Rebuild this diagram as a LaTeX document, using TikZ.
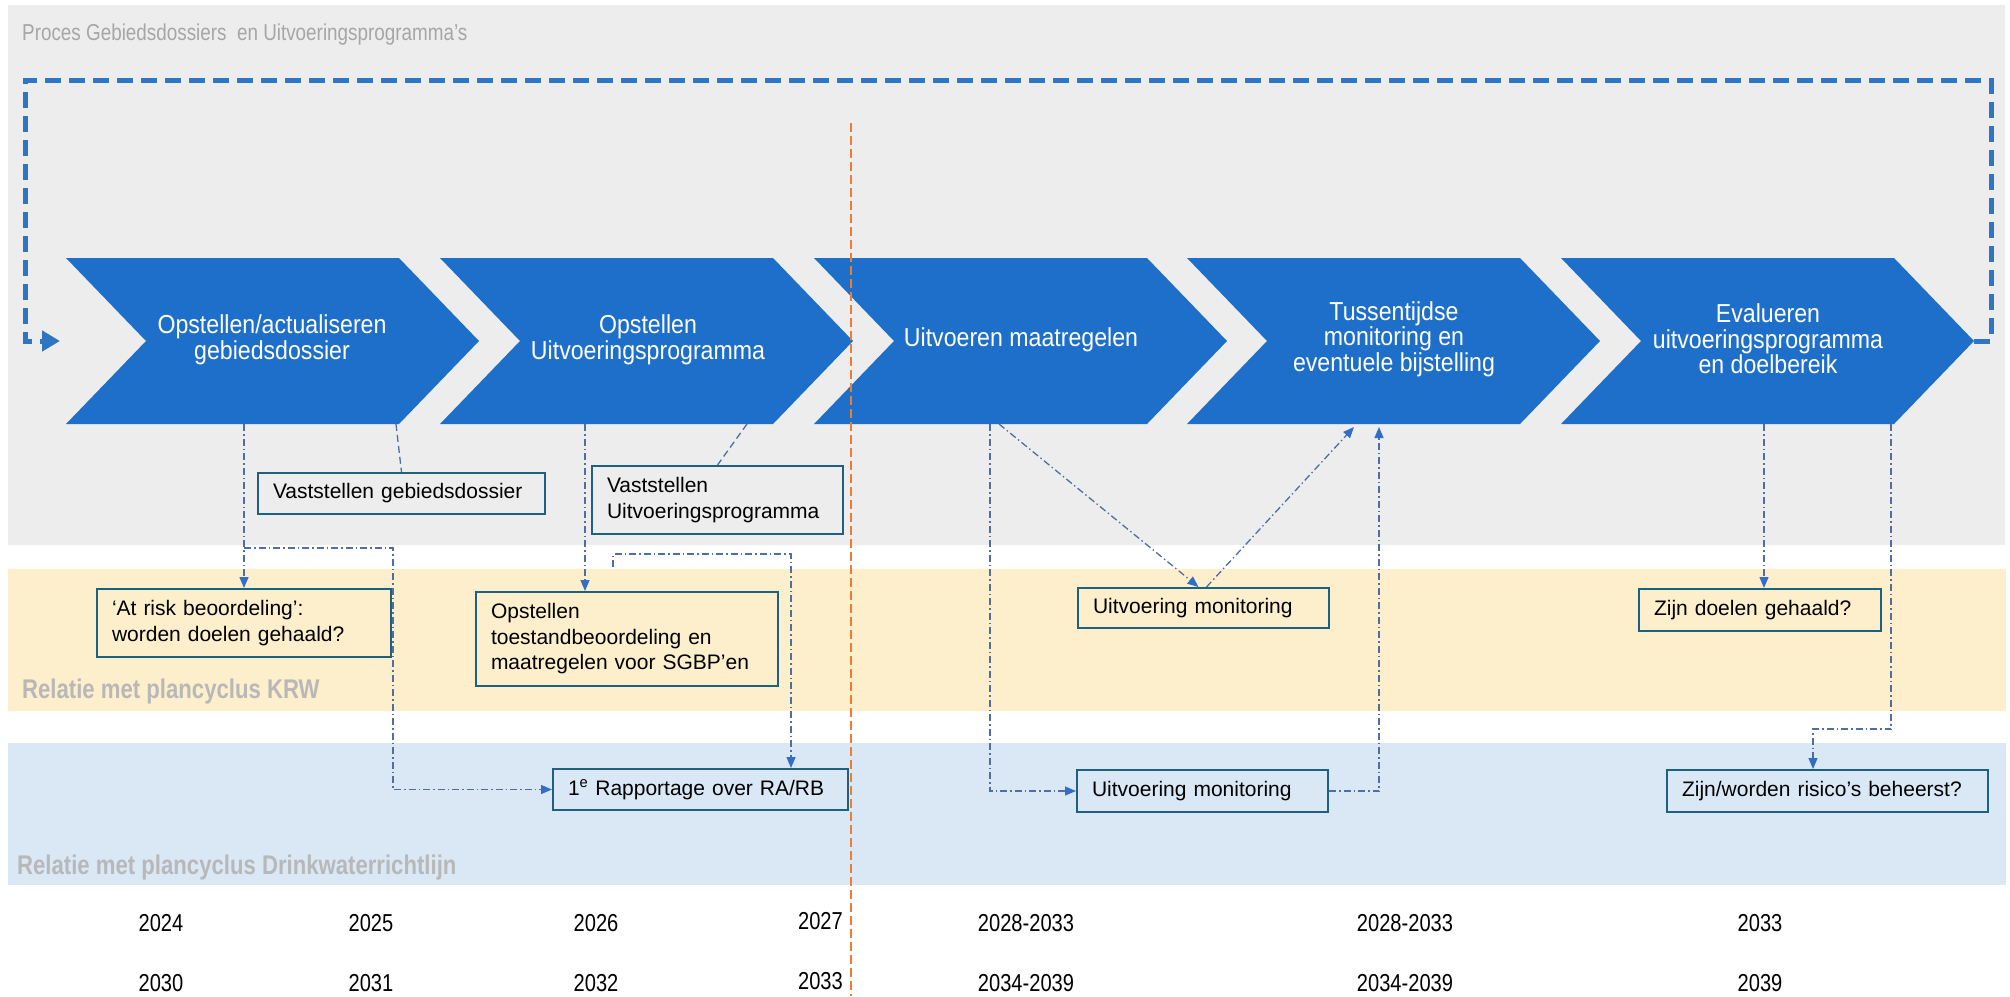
\documentclass[tikz,border=0pt]{standalone}
\usepackage{fontspec}
\setmainfont{Liberation Sans}[FakeStretch=0.82]
\newfontfamily\boxfont{Liberation Sans}
\newfontfamily\chevfont{Liberation Sans}[FakeStretch=0.89]
\usetikzlibrary{arrows.meta}
\definecolor{bandgray}{RGB}{237,237,237}
\definecolor{bandyellow}{RGB}{253,239,203}
\definecolor{bandblue}{RGB}{218,232,245}
\definecolor{chevblue}{RGB}{30,111,201}
\definecolor{loopblue}{RGB}{46,117,196}
\definecolor{boxline}{RGB}{28,98,128}
\definecolor{connc}{RGB}{80,110,160}
\definecolor{arrc}{RGB}{50,110,200}
\definecolor{titlegray}{RGB}{166,166,166}
\definecolor{labelgray}{RGB}{184,184,184}
\definecolor{orangeline}{RGB}{237,125,49}
\begin{document}
\begin{tikzpicture}[x=1pt,y=-1pt,
  chevtext/.style={text=white, align=center, font=\chevfont\fontsize{26}{25.5}\selectfont, inner sep=0pt},
  infobox/.style={draw=boxline, line width=2pt, anchor=north west, align=left, inner xsep=15pt, inner ysep=0pt, font=\boxfont\fontsize{21}{25.5}\selectfont},
  conn/.style={draw=connc, line width=1.3pt, dash pattern=on 7pt off 3pt on 1.5pt off 3pt, -{Triangle[length=11pt,width=9pt,color=arrc]}},
  dconn/.style={draw=connc, line width=1.3pt, dash pattern=on 7pt off 4pt},
  loopline/.style={draw=loopblue, line width=5pt, dash pattern=on 16pt off 8pt, -{Triangle[length=18pt,width=20pt]}},
  year/.style={font=\fontsize{24.5}{26}\selectfont, inner sep=0pt},
  bandlabel/.style={anchor=west, font=\bfseries\fontsize{27}{30}\selectfont, text=labelgray, inner sep=0pt},
  chevron/.style={fill=chevblue}
]
\useasboundingbox (0,0) rectangle (2010,996);
\fill[white] (0,0) rectangle (2010,996);
% bands
\fill[bandgray] (8,5) rectangle (2005,545);
\fill[bandyellow] (8,569) rectangle (2006,711);
\fill[bandblue] (8,743) rectangle (2006,885);

% title and labels
\node[anchor=west, text=titlegray, font=\fontsize{23}{26}\selectfont, inner sep=0pt] (title) at (22,35) {Proces Gebiedsdossiers\ \ en Uitvoeringsprogramma’s};
\node[bandlabel] (krw) at (22,692) {Relatie met plancyclus KRW};
\node[bandlabel] (dwr) at (17,868) {Relatie met plancyclus Drinkwaterrichtlijn};

% chevrons
\foreach \L in {66,440,814,1187,1561}{
  \path[chevron] (\L,258) -- ++(333,0) -- ++(80,83) -- ++(-80,83) -- ++(-333,0) -- ++(80,-83) -- cycle;
}
\node[chevtext] (ch1) at (272,340) {Opstellen/actualiseren\\gebiedsdossier};
\node[chevtext] (ch2) at (648,340) {Opstellen\\Uitvoeringsprogramma};
\node[chevtext] (ch3) at (1021,340) {Uitvoeren maatregelen};
\node[chevtext] (ch4) at (1394,339) {Tussentijdse\\monitoring en\\eventuele bijstelling};
\node[chevtext] (ch5) at (1768,339) {Evalueren\\uitvoeringsprogramma\\en doelbereik};

% loop
\coordinate (c5tip) at (1974,341);
\coordinate (lp1) at (1991,80);
\coordinate (lp2) at (25,80);
\coordinate (lpend) at (60,341);
\draw[loopline] (c5tip) -| (lp1) -- (lp2) |- (lpend);

% orange line
\coordinate (ot) at (851,123);
\coordinate (ob) at (851,996);
\draw[orangeline, line width=2.5pt, dash pattern=on 9pt off 4pt] (ot) -- (ob);

% boxes
\node[infobox, text width=257pt, minimum height=41pt] (b1) at (257,472) {Vaststellen gebiedsdossier};
\node[infobox, text width=221pt, minimum height=68pt] (b2) at (591,465) {Vaststellen\\Uitvoeringsprogramma};
\node[infobox, text width=264pt, minimum height=68pt] (b3) at (96,588) {‘At risk beoordeling’:\\worden doelen gehaald?};
\node[infobox, text width=272pt, minimum height=94pt] (b4) at (475,591) {Opstellen\\toestandbeoordeling en\\maatregelen voor SGBP’en};
\node[infobox, text width=265pt, minimum height=41pt] (b5) at (552,768) {1\textsuperscript{e} Rapportage over RA/RB};
\node[infobox, text width=221pt, minimum height=40pt] (b6) at (1077,587) {Uitvoering monitoring};
\node[infobox, text width=212pt, minimum height=42pt] (b7) at (1638,588) {Zijn doelen gehaald?};
\node[infobox, text width=221pt, minimum height=42pt] (b8) at (1076,769) {Uitvoering monitoring};
\node[infobox, text width=291pt, minimum height=42pt] (b9) at (1666,769) {Zijn/worden risico’s beheerst?};

% connectors
\coordinate (c1b) at (244,424);
\coordinate (br1) at (244,548);
\coordinate (k1) at (393,548);
\draw[conn] (c1b) -- (c1b |- b3.north);
\draw[conn] (br1) -- (k1) |- (b5.west);
\coordinate (c1r) at (396,424);
\draw[dconn] (c1r) -- (b1.north);
\coordinate (c2r) at (747,424);
\draw[dconn] (c2r) -- (b2.north);
\coordinate (c2b) at (585,424);
\draw[conn] (c2b) -- (c2b |- b4.north);
\coordinate (s1) at (613,567);
\coordinate (s2) at (791,554);
\draw[conn] (s1) |- (s2) -- (s2 |- b5.north);
\coordinate (c3v) at (990,424);
\draw[conn] (c3v) |- (b8.west);
\coordinate (c3d) at (999,424);
\draw[conn] (c3d) -- ([xshift=-5pt]b6.north);
\coordinate (c4d) at (1354,427);
\draw[conn] ([xshift=3pt]b6.north) -- (c4d);
\coordinate (c4v) at (1379,427);
\draw[conn] (b8.east) -| (c4v);
\coordinate (c5a) at (1764,424);
\draw[conn] (c5a) -- (c5a |- b7.north);
\coordinate (c5b) at (1891,424);
\coordinate (k5) at (1813,729);
\draw[conn] (c5b) |- (k5) -- (k5 |- b9.north);

% years
\node[year] (y1) at (161,923) {2024};
\node[year] (y2) at (371,923) {2025};
\node[year] (y3) at (596,923) {2026};
\node[year, anchor=east] (y4) at (843,921) {2027};
\node[year] (y5) at (1026,923) {2028-2033};
\node[year] (y6) at (1405,923) {2028-2033};
\node[year] (y7) at (1760,923) {2033};
\node[year] (z1) at (161,983) {2030};
\node[year] (z2) at (371,983) {2031};
\node[year] (z3) at (596,983) {2032};
\node[year, anchor=east] (z4) at (843,981) {2033};
\node[year] (z5) at (1026,983) {2034-2039};
\node[year] (z6) at (1405,983) {2034-2039};
\node[year] (z7) at (1760,983) {2039};
\end{tikzpicture}
\end{document}
